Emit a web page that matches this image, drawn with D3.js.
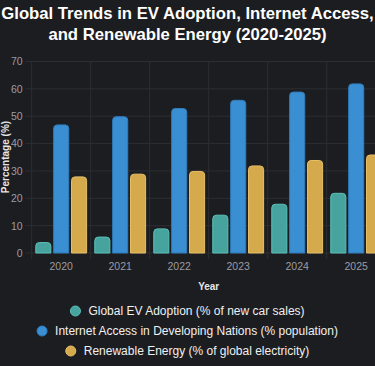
<!DOCTYPE html>
<html><head><meta charset="utf-8">
<script src="https://cdn.jsdelivr.net/npm/d3@7"></script>
<style>
html,body{margin:0;padding:0;background:#1c1d21;overflow:hidden;}
svg{display:block;}
</style></head>
<body>
<svg id="c" width="375" height="366"></svg>
<script>
const years = ["2020","2021","2022","2023","2024","2025"];
const seriesNames = ["Global EV Adoption (% of new car sales)","Internet Access in Developing Nations (% population)","Renewable Energy (% of global electricity)"];
const evAdoption = [4, 6, 9, 14, 18, 22];
const internetAccess = [47, 50, 53, 56, 59, 62];
const renewableEnergy = [28, 29, 30, 32, 34, 36];
const yTicks = [0,10,20,30,40,50,60,70];
const fills = ["#46a39e","#3a8ed2","#d4aa4c"];
const strokes = ["#5cc1bb","#2f7dbd","#e8c068"];
const FONT = "Liberation Sans, Arial, sans-serif";

const svg = d3.select("#c");
const W = 375, H = 366;
svg.append("rect").attr("width",W).attr("height",H).attr("fill","#1c1d21");

const plot = {left:31.7, right:385.7, top:61.5, bottom:253};
const x0 = d3.scaleBand().domain(years).range([plot.left, plot.right]).paddingInner(0).paddingOuter(0);
const x1 = d3.scaleBand().domain([0,1,2]).range([0, x0.bandwidth()]).paddingInner(0.1).paddingOuter(0.2);
const y = d3.scaleLinear().domain([0,70]).range([plot.bottom, plot.top]);

// grid
const g = svg.append("g");
yTicks.forEach(t=>{
  g.append("line").attr("x1",plot.left-6).attr("x2",plot.right).attr("y1",y(t)).attr("y2",y(t))
   .attr("stroke","#2c2e33").attr("stroke-width",1);
});
years.forEach((yr,i)=>{
  const xx = x0(yr);
  g.append("line").attr("x1",xx).attr("x2",xx).attr("y1",plot.top).attr("y2",plot.bottom+6)
   .attr("stroke","#2c2e33").attr("stroke-width",1);
});

// y axis
const yAxis = d3.axisLeft(y).tickValues(yTicks).tickSize(0).tickPadding(9);
const ya = svg.append("g").attr("transform",`translate(${plot.left},0)`).call(yAxis);
ya.select(".domain").remove();
ya.selectAll("text").attr("fill","#9a9ca3").attr("font-family",FONT).attr("font-size",10.5);

// x axis
const xAxis = d3.axisBottom(x0).tickSize(0).tickPadding(10);
const xa = svg.append("g").attr("transform",`translate(0,${plot.bottom})`).call(xAxis);
xa.select(".domain").remove();
xa.selectAll("text").attr("fill","#9a9ca3").attr("font-family",FONT).attr("font-size",10.5);

// bars
const data = [evAdoption, internetAccess, renewableEnergy];
function barPath(x, yt, w, h, r){
  r = Math.min(r, w/2, h);
  return `M${x},${yt+h}V${yt+r}Q${x},${yt} ${x+r},${yt}H${x+w-r}Q${x+w},${yt} ${x+w},${yt+r}V${yt+h}Z`;
}
data.forEach((vals,si)=>{
  svg.append("g").selectAll("path").data(vals).join("path")
    .attr("d",(v,i)=>{
      const bx = x0(years[i]) + x1(si);
      const yt = y(v);
      return barPath(bx+0.5, yt+0.5, x1.bandwidth()-1, plot.bottom-yt-0.5, 3.5);
    })
    .attr("fill",fills[si]).attr("stroke",strokes[si]).attr("stroke-width",1);
});

// title
const title = svg.append("text").attr("x",187.5).attr("text-anchor","middle")
  .attr("fill","#ffffff").attr("font-family",FONT)
  .attr("font-weight","bold").attr("font-size",16.7);
title.append("tspan").attr("x",187.5).attr("y",18.5).text("Global Trends in EV Adoption, Internet Access,");
title.append("tspan").attr("x",187.5).attr("y",39.5).text("and Renewable Energy (2020-2025)");

// axis titles
svg.append("text").attr("transform",`translate(9,157) rotate(-90)`).attr("text-anchor","middle")
  .attr("fill","#e6e6e6").attr("font-family",FONT)
  .attr("font-weight","bold").attr("font-size",10).text("Percentage (%)");
svg.append("text").attr("x",208.7).attr("y",286).attr("text-anchor","middle").attr("dy","0.35em")
  .attr("fill","#e6e6e6").attr("font-family",FONT)
  .attr("font-weight","bold").attr("font-size",10).text("Year");

// legend
const legY = [311, 331, 351];
seriesNames.forEach((name,i)=>{
  const lg = svg.append("g");
  const t = lg.append("text").attr("y",legY[i]).attr("dy","0.35em").attr("fill","#f0f0f0")
    .attr("font-family",FONT).attr("font-size",12).text(name);
  const tw = t.node().getComputedTextLength();
  const total = 10 + 8 + tw;
  const sx = 187.5 - total/2;
  lg.append("circle").attr("cx",sx+5).attr("cy",legY[i]).attr("r",5).attr("fill",fills[i]).attr("stroke",strokes[i]).attr("stroke-width",1);
  t.attr("x",sx+18);
});
</script>
</body></html>
